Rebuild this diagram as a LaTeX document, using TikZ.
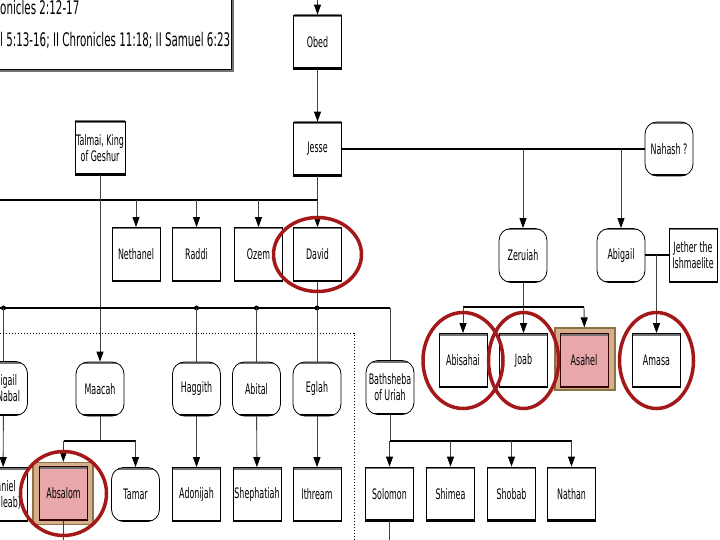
\documentclass[tikz,border=0pt]{standalone}
\usepackage{fontspec}
\setmainfont{DejaVu Sans}[FakeStretch=0.55]
\usetikzlibrary{arrows.meta}

\definecolor{ringred}{HTML}{A31818}
\definecolor{slainfill}{HTML}{E8A7AB}
\definecolor{slainrim}{HTML}{8A7444}
\definecolor{slainback}{HTML}{D6AE8C}

\begin{document}
\begin{tikzpicture}[
  x=1bp, y=-1bp,
  font=\fontsize{14.5}{16}\selectfont,
  >={Triangle[length=10bp, width=7bp, color=black]},
  edges/.style={path picture={
    \draw[line width=4bp, black!55] (path picture bounding box.north west) -- (path picture bounding box.north east);
    \draw[line width=4bp] (path picture bounding box.south west) -- (path picture bounding box.south east);}},
  person/.style={draw, fill=white, line width=0.8bp, minimum width=48bp, minimum height=54bp, inner sep=1bp, align=center, edges},
  wife/.style={person, rounded corners=12bp},
  slain/.style={person, fill=slainfill, draw=black!80!red},
  rim/.style={draw=slainrim, fill=slainback, line width=1.2bp, minimum width=60bp, minimum height=62bp, inner sep=0pt},
  link/.style={line width=0.9bp, black!75},
  bar/.style={line width=2bp},
  ring/.style={draw=ringred, line width=3.5bp}
]
  \useasboundingbox (0,0) rectangle (720,540);
  \clip (0,0) rectangle (720,540);

  % source note
  \fill[black!55] (-3,-3) rectangle (234,72);
  \draw[fill=white, line width=0.8bp] (-5,-5) rectangle (231,69);
  \node[font=\fontsize{18.8}{20}\selectfont, anchor=base west, inner sep=0pt] (note1) at (0,15) {onicles 2:12-17};
  \node[font=\fontsize{18.8}{20}\selectfont, anchor=base west, inner sep=0pt] (note2) at (0,47) {l 5:13-16; II Chronicles 11:18; II Samuel 6:23};

  % generations above David
  \node[person] (obed) at (317.5,42) {Obed};
  \node[person] (jesse) at (317.5,149) {Jesse};
  \node[wife] (nahash) at (669,149) {Nahash ?};
  \node[person] (talmai) at (100,148) {Talmai, King\\of Geshur};

  \node[person] (nethanel) at (136,254.5) {Nethanel};
  \node[person] (raddi) at (196.5,254.5) {Raddi};
  \node[person] (ozem) at (258.5,254.5) {Ozem};
  \node[person] (david) at (317.5,254.5) {David};

  \node[wife] (zeruiah) at (523,255.5) {Zeruiah};
  \node[wife] (abigail) at (621,255.5) {Abigail};
  \node[person] (jether) at (693,255.5) {Jether the\\Ishmaelite};

  % wives of David
  \node[wife] (abigailN) at (3.5,388.5) {Abigail\\of Nabal};
  \node[wife] (maacah) at (100,389) {Maacah};
  \node[wife] (haggith) at (196.5,389) {Haggith};
  \node[wife] (abital) at (256.5,389) {Abital};
  \node[wife] (eglah) at (317,389) {Eglah};
  \node[wife] (bathsheba) at (390,387.5) {Bathsheba\\of Uriah};

  % sons of Zeruiah, Abigail
  \node[person] (abisahai) at (463,360.5) {Abisahai};
  \node[person] (joab) at (523.5,360.5) {Joab};
  \node[rim] (asahel rim) at (585,359) {};
  \node[slain] (asahel) at (584,360.5) {Asahel};
  \node[person] (amasa) at (656.5,360.5) {Amasa};

  % children of David
  \node[person] (daniel) at (3,494.5) {Daniel\\(Chileab)};
  \node[rim] (absalom rim) at (63,493.5) {};
  \node[slain] (absalom) at (63.5,493.5) {Absalom};
  \node[wife] (tamar) at (135.5,494.5) {Tamar};
  \node[person] (adonijah) at (196.5,494.5) {Adonijah};
  \node[person] (shephatiah) at (257,494.5) {Shephatiah};
  \node[person] (ithream) at (317,494.5) {Ithream};
  \node[person] (solomon) at (389.5,494) {Solomon};
  \node[person] (shimea) at (450.5,494) {Shimea};
  \node[person] (shobab) at (511.5,494) {Shobab};
  \node[person] (nathan) at (571.5,494) {Nathan};

  \coordinate (obed in) at (317.5,0);
  \coordinate (sons) at (317.5,200);
  \coordinate (sons w) at (0,200);
  \coordinate (wives w) at (0,308);
  \coordinate (wives e) at (390,308);
  \coordinate (maacah kids) at (100,441);
  \coordinate (bathsheba kids) at (390,441);
  \coordinate (zeruiah kids) at (523,307);
  \coordinate (absalom down) at (63.5,540);
  \coordinate (solomon down) at (389.5,540);

  \draw[link,->] (obed in) -- (obed);
  \draw[link,->] (obed) -- (jesse);
  \draw[link] (jesse) -- (sons);
  \draw[bar] (sons w) -- (sons);
  \foreach \n in {nethanel,raddi,ozem,david}
    \draw[link,->] (\n |- sons) -- (\n);
  \draw[bar] (jesse) -- (nahash);
  \foreach \n in {zeruiah,abigail}
    \draw[link,->] (\n |- jesse) -- (\n);

  \draw[link,->] (talmai) -- (maacah);
  \draw[link] (david) -- (david |- wives w);
  \draw[bar] (wives w) -- (wives e);
  \draw[link] (wives e) -- (bathsheba);
  \foreach \n in {abigailN,haggith,abital,eglah} {
    \fill (\n |- wives w) circle (2.5);
    \draw[link] (\n |- wives w) -- (\n);
  }
  \draw[dotted, line width=1bp] (0,333) -- (354,333) -- (354,540);

  \foreach \m/\c in {abigailN/daniel,haggith/adonijah,abital/shephatiah,eglah/ithream}
    \draw[link,->] (\m) -- (\c);
  \draw[link] (maacah) -- (maacah kids);
  \draw[bar] (absalom |- maacah kids) -- (tamar |- maacah kids);
  \draw[link,->] (absalom |- maacah kids) -- (absalom rim);
  \draw[link,->] (tamar |- maacah kids) -- (tamar);
  \draw[link] (absalom) -- (absalom down);

  \draw[link] (bathsheba) -- (bathsheba kids);
  \draw[bar] (solomon |- bathsheba kids) -- (nathan |- bathsheba kids);
  \foreach \c in {solomon,shimea,shobab,nathan}
    \draw[link,->] (\c |- bathsheba kids) -- (\c);
  \draw[link] (solomon) -- (solomon down);

  \draw[link] (zeruiah) -- (zeruiah kids);
  \draw[bar] (abisahai |- zeruiah kids) -- (asahel |- zeruiah kids);
  \draw[link,->] (abisahai |- zeruiah kids) -- (abisahai);
  \draw[link,->] (joab |- zeruiah kids) -- (joab);
  \draw[link,->] (asahel |- zeruiah kids) -- (asahel rim);
  \draw[bar] (abigail) -- (jether);
  \draw[link,->] (amasa |- abigail) -- (amasa);

  % marks
  \draw[ring] (david) ellipse [x radius=44, y radius=37];
  \draw[ring] (abisahai) ellipse [x radius=40, y radius=48];
  \draw[ring] (joab) ellipse [x radius=35, y radius=48];
  \draw[ring] (amasa) ellipse [x radius=37, y radius=48];
  \draw[ring] (absalom) ellipse [x radius=43, y radius=42];
\end{tikzpicture}
\end{document}
